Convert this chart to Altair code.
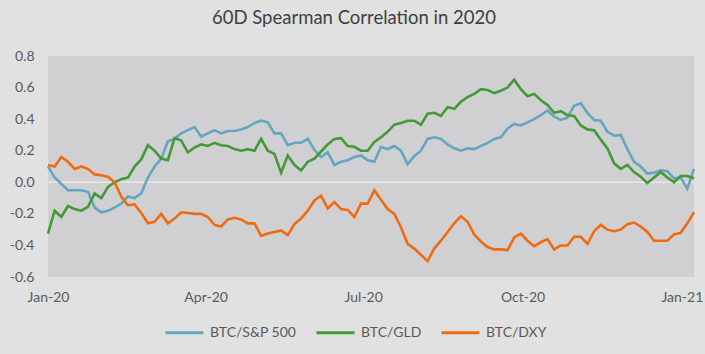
import altair as alt
import pandas as pd

title_text = "60D Spearman Correlation in 2020"
series_names = ["BTC/S&P 500", "BTC/GLD", "BTC/DXY"]
series_colors = ["#64a6bf", "#429a37", "#f06b10"]
start_date = "2020-01-01"
end_date = "2021-01-08"

sp500 = [0.10, 0.03, -0.01, -0.05, -0.05, -0.05, -0.06, -0.16, -0.19, -0.18,
         -0.16, -0.135, -0.09, -0.10, -0.07, 0.03, 0.10, 0.15, 0.26, 0.275,
         0.31, 0.33, 0.35, 0.29, 0.31, 0.33, 0.31, 0.325, 0.325, 0.335,
         0.35, 0.375, 0.39, 0.38, 0.31, 0.31, 0.235, 0.25, 0.25, 0.275,
         0.205, 0.16, 0.19, 0.11, 0.13, 0.14, 0.16, 0.17, 0.14, 0.13,
         0.225, 0.21, 0.23, 0.20, 0.115, 0.165, 0.20, 0.275, 0.285, 0.275,
         0.24, 0.215, 0.20, 0.215, 0.21, 0.23, 0.25, 0.275, 0.285, 0.34,
         0.37, 0.36, 0.38, 0.40, 0.425, 0.455, 0.415, 0.395, 0.41, 0.485,
         0.50, 0.44, 0.395, 0.39, 0.32, 0.295, 0.30, 0.21, 0.13, 0.10,
         0.055, 0.06, 0.075, 0.07, 0.025, 0.03, -0.04, 0.085]

gld = [-0.325, -0.18, -0.22, -0.15, -0.17, -0.18, -0.155, -0.07, -0.10, -0.03,
       0.00, 0.02, 0.03, 0.10, 0.145, 0.235, 0.20, 0.15, 0.14, 0.28,
       0.265, 0.19, 0.22, 0.24, 0.23, 0.25, 0.235, 0.23, 0.21, 0.20,
       0.21, 0.20, 0.275, 0.20, 0.18, 0.06, 0.17, 0.11, 0.075, 0.13,
       0.15, 0.195, 0.24, 0.275, 0.28, 0.23, 0.225, 0.20, 0.20, 0.255,
       0.285, 0.32, 0.365, 0.375, 0.39, 0.39, 0.365, 0.435, 0.44, 0.42,
       0.475, 0.465, 0.51, 0.54, 0.56, 0.59, 0.585, 0.565, 0.58, 0.60,
       0.65, 0.59, 0.545, 0.56, 0.52, 0.49, 0.44, 0.45, 0.425, 0.42,
       0.36, 0.335, 0.33, 0.27, 0.215, 0.12, 0.085, 0.11, 0.065, 0.035,
       -0.005, 0.03, 0.065, 0.03, 0.00, 0.04, 0.04, 0.025]

dxy = [0.11, 0.10, 0.16, 0.13, 0.085, 0.10, 0.085, 0.05, 0.045, 0.035,
       0.00, -0.09, -0.145, -0.14, -0.195, -0.26, -0.25, -0.20, -0.26, -0.23,
       -0.19, -0.195, -0.20, -0.20, -0.22, -0.27, -0.28, -0.235, -0.225, -0.235,
       -0.26, -0.26, -0.34, -0.325, -0.315, -0.305, -0.335, -0.265, -0.23, -0.18,
       -0.115, -0.085, -0.165, -0.125, -0.17, -0.175, -0.22, -0.135, -0.135, -0.05,
       -0.11, -0.17, -0.20, -0.285, -0.39, -0.42, -0.46, -0.50, -0.42, -0.37,
       -0.315, -0.26, -0.215, -0.25, -0.33, -0.375, -0.41, -0.425, -0.425, -0.43,
       -0.35, -0.325, -0.37, -0.405, -0.38, -0.36, -0.425, -0.40, -0.40, -0.345,
       -0.345, -0.39, -0.31, -0.27, -0.30, -0.31, -0.30, -0.265, -0.255, -0.28,
       -0.315, -0.37, -0.37, -0.37, -0.33, -0.32, -0.26, -0.19]

y_ticks = [-0.6, -0.4, -0.2, 0.0, 0.2, 0.4, 0.6, 0.8]
x_tick_months = [(2020, 1), (2020, 4), (2020, 7), (2020, 10), (2021, 1)]

dates = pd.date_range(start_date, end_date, periods=len(sp500))
frames = []
for name, vals in zip(series_names, [sp500, gld, dxy]):
    frames.append(pd.DataFrame({"date": dates, "value": vals, "series": name}))
df = pd.concat(frames, ignore_index=True)

FONT = "Lato"
LABEL_COLOR = "#5a5a5a"

x_enc = alt.X(
    "date:T",
    scale=alt.Scale(domain=[alt.DateTime(year=2020, month=1, date=1),
                            alt.DateTime(year=2021, month=1, date=8)]),
    axis=alt.Axis(
        title=None,
        values=[alt.DateTime(year=y, month=m, date=1) for y, m in x_tick_months],
        format="%b-%y",
        labelFlush=False,
        labelOverlap=False,
        labelBound=False,
        domain=False,
        ticks=False,
        grid=False,
        labelPadding=13,
        labelFontSize=14,
        labelColor=LABEL_COLOR,
        labelFont=FONT,
    ),
)

y_enc = alt.Y(
    "value:Q",
    scale=alt.Scale(domain=[-0.6, 0.8], nice=False, zero=False),
    axis=alt.Axis(
        title=None,
        values=y_ticks,
        labelExpr="datum.value < -0.001 ? '-' + format(abs(datum.value), '.1f') : format(abs(datum.value), '.1f')",
        labelOverlap=False,
        labelBound=False,
        labelFlush=False,
        domain=False,
        ticks=False,
        grid=False,
        labelPadding=14,
        labelFontSize=14,
        labelColor=LABEL_COLOR,
        labelFont=FONT,
    ),
)

lines = alt.Chart(df).mark_line(strokeWidth=2.6).encode(
    x=x_enc,
    y=y_enc,
    color=alt.Color(
        "series:N",
        scale=alt.Scale(domain=series_names, range=series_colors),
        legend=alt.Legend(
            title=None,
            orient="none",
            direction="horizontal",
            legendX=116,
            legendY=256,
            symbolType="stroke",
            symbolSize=1444,
            symbolStrokeWidth=3,
            labelFontSize=14,
            labelColor=LABEL_COLOR,
            labelFont=FONT,
            labelOffset=5,
            columnPadding=13,
        ),
    ),
)

zero_df = pd.DataFrame({"value": [0.0]})
zero_rule = alt.Chart(zero_df).mark_rule(color="#e8e8e8", strokeWidth=1.5).encode(
    y=y_enc
)

chart = alt.layer(zero_rule, lines).properties(
    width=646,
    height=221,
    background="#e1e1e1",
    padding={"left": 48, "top": 56, "right": 11, "bottom": 77},
    autosize=alt.AutoSizeParams(type="none"),
    title=alt.TitleParams(
        text=title_text,
        font=FONT,
        fontSize=18.5,
        fontWeight="normal",
        color="#404040",
        anchor="middle",
        dx=-17,
        offset=22,
    ),
).configure_view(
    fill="#d0d0d2",
    strokeWidth=0,
)

chart.save("out.html", embed_options={"renderer": "svg", "actions": False})
